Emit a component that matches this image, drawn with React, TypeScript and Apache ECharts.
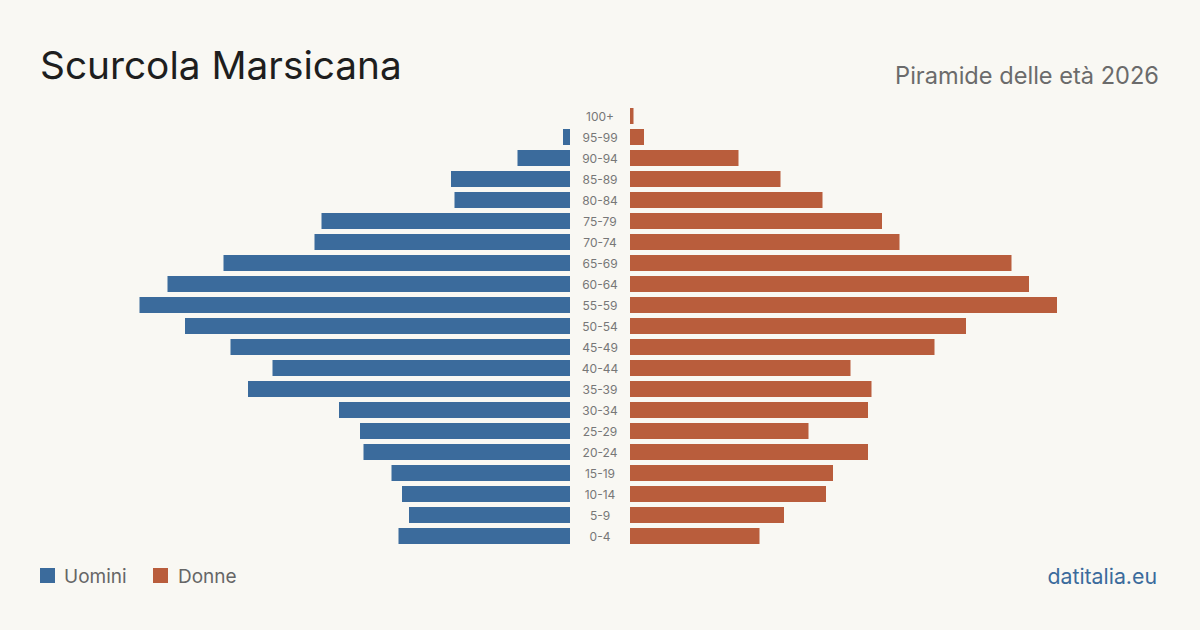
import React, { useEffect, useRef } from "react";
import * as echarts from "echarts";

const ageGroups = ["100+", "95-99", "90-94", "85-89", "80-84", "75-79", "70-74", "65-69", "60-64", "55-59", "50-54", "45-49", "40-44", "35-39", "30-34", "25-29", "20-24", "15-19", "10-14", "5-9", "0-4"];
const men = [0, 2, 15, 34, 33, 71, 73, 99, 115, 123, 110, 97, 85, 92, 66, 60, 59, 51, 48, 46, 49];
const women = [1, 4, 31, 43, 55, 72, 77, 109, 114, 122, 96, 87, 63, 69, 68, 51, 68, 58, 56, 44, 37];

const BLUE = "#3b6b9c";
const ORANGE = "#b95d3c";
const FONT = "Inter, 'Noto Sans', sans-serif";
const AXIS_MAX = 130;

export default function App() {
  const ref = useRef<HTMLDivElement>(null);
  useEffect(() => {
    if (!ref.current) return;
    const chart = echarts.init(ref.current, undefined, { renderer: "svg" });
    const gridTop = 105.5;
    const gridHeight = 441;
    const scaleW = 455;
    chart.setOption({
      animation: false,
      backgroundColor: "#f9f8f3",
      textStyle: { fontFamily: FONT },
      grid: [
        { left: 570 - scaleW, top: gridTop, width: scaleW, height: gridHeight },
        { left: 630, top: gridTop, width: scaleW, height: gridHeight },
      ],
      xAxis: [
        { type: "value", gridIndex: 0, min: 0, max: AXIS_MAX, inverse: true, show: false },
        { type: "value", gridIndex: 1, min: 0, max: AXIS_MAX, show: false },
      ],
      yAxis: [
        { type: "category", gridIndex: 0, data: ageGroups, inverse: true, show: false },
        {
          type: "category",
          gridIndex: 1,
          data: ageGroups,
          inverse: true,
          axisLine: { show: false },
          axisTick: { show: false },
          axisLabel: { show: true, align: "center", margin: 30, color: "#777", fontSize: 12, fontFamily: FONT },
        },
      ],
      series: [
        { name: "Uomini", type: "bar", xAxisIndex: 0, yAxisIndex: 0, data: men, barWidth: 16, itemStyle: { color: BLUE } },
        { name: "Donne", type: "bar", xAxisIndex: 1, yAxisIndex: 1, data: women, barWidth: 16, itemStyle: { color: ORANGE } },
      ],
      graphic: [
        { type: "text", left: 40, top: 45, style: { text: "Scurcola Marsicana", fontSize: 38.8, fill: "#1e1e1e", fontFamily: FONT } },
        { type: "text", right: 41, top: 63, style: { text: "Piramide delle età 2026", fontSize: 23.6, fill: "#6b6b6b", fontFamily: FONT } },
        { type: "rect", shape: { x: 40, y: 568, width: 15, height: 15 }, style: { fill: BLUE } },
        { type: "text", left: 64, top: 566.5, style: { text: "Uomini", fontSize: 19, fill: "#666", fontFamily: FONT } },
        { type: "rect", shape: { x: 153, y: 568, width: 15, height: 15 }, style: { fill: ORANGE } },
        { type: "text", left: 178, top: 566.5, style: { text: "Donne", fontSize: 19, fill: "#666", fontFamily: FONT } },
        { type: "text", right: 43, top: 565, style: { text: "datitalia.eu", fontSize: 21.3, fill: BLUE, fontFamily: FONT } },
      ],
    });
    return () => chart.dispose();
  }, []);
  return <div ref={ref} style={{ width: 1200, height: 630, position: "absolute", left: 0, top: 0 }} />;
}
